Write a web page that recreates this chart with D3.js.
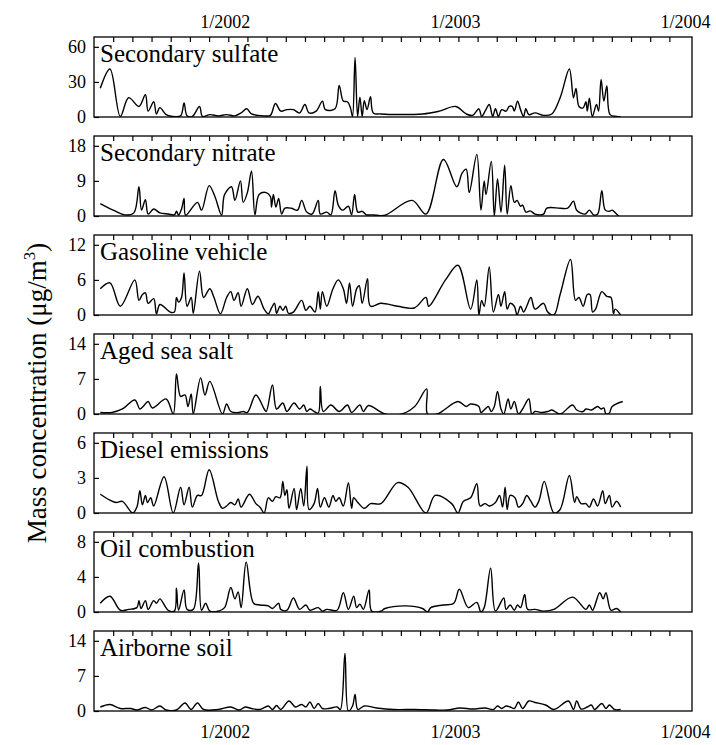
<!DOCTYPE html>
<html>
<head>
<meta charset="utf-8">
<script src="https://cdn.jsdelivr.net/npm/d3@7"></script>
<style>
  body { margin: 0; background: #fff; }
  svg text { font-family: "Liberation Serif", "Times New Roman", serif; fill: #000; }
</style>
</head>
<body>
<div id="chart"></div>
<script>
// time is decimal year, values in ug/m3
const sulfate = [[2001.444,24.5],[2001.486,41],[2001.531,0.5],[2001.567,16.5],[2001.612,9],[2001.640,19],[2001.652,5],[2001.676,13],[2001.688,2.6],[2001.703,8],[2001.730,2],[2001.757,0.5],[2001.793,1],[2001.808,12],[2001.821,1],[2001.844,0.5],[2001.875,9],[2001.888,0.5],[2001.920,2],[2001.957,1],[2001.993,2],[2002.029,1],[2002.056,3.5],[2002.080,7],[2002.101,2.6],[2002.129,1.4],[2002.156,1],[2002.183,1.4],[2002.205,11.5],[2002.228,5],[2002.255,6.3],[2002.283,6.3],[2002.310,3.5],[2002.333,10.7],[2002.351,3.5],[2002.382,5],[2002.409,13.6],[2002.422,6.3],[2002.464,7],[2002.482,27],[2002.500,13.6],[2002.518,13],[2002.531,7.8],[2002.540,0.5],[2002.551,51],[2002.562,0.5],[2002.572,17],[2002.582,0.5],[2002.591,14],[2002.603,6.3],[2002.618,17.3],[2002.630,3.5],[2002.663,2.6],[2002.844,2.6],[2002.917,5],[2002.989,9],[2003.034,2.6],[2003.062,1.4],[2003.089,7],[2003.101,0.5],[2003.116,5],[2003.134,10.7],[2003.149,0.5],[2003.161,7],[2003.174,0.5],[2003.188,6.3],[2003.207,5],[2003.221,9],[2003.234,9],[2003.243,5],[2003.257,13.6],[2003.270,6.3],[2003.283,0.5],[2003.293,7],[2003.306,2],[2003.333,3.5],[2003.370,1.4],[2003.406,2.6],[2003.442,16.5],[2003.482,41],[2003.500,16.5],[2003.511,24.5],[2003.524,9],[2003.542,7.8],[2003.554,13],[2003.560,5],[2003.569,16],[2003.582,0.5],[2003.600,10.7],[2003.609,5],[2003.620,32],[2003.632,13.6],[2003.645,26.5],[2003.659,2],[2003.687,0.5],[2003.705,0]];

const nitrate = [[2001.444,3.2],[2001.500,1.5],[2001.550,0.3],[2001.590,0.8],[2001.612,7.5],[2001.623,1.5],[2001.640,4.2],[2001.652,0.5],[2001.676,1.8],[2001.703,0.8],[2001.739,0.5],[2001.766,0.3],[2001.775,1.2],[2001.784,0.2],[2001.797,1.8],[2001.808,4.5],[2001.815,0.2],[2001.866,3.5],[2001.884,1.5],[2001.917,7.8],[2001.942,5],[2001.971,0.2],[2001.984,5.5],[2002.014,7.5],[2002.029,4],[2002.053,9],[2002.065,3.5],[2002.083,6],[2002.101,11.5],[2002.116,0.3],[2002.134,5.5],[2002.165,6],[2002.183,5],[2002.188,2.3],[2002.196,5.5],[2002.207,2.3],[2002.219,4.5],[2002.232,0.5],[2002.246,2],[2002.274,2],[2002.301,1.5],[2002.319,4],[2002.341,1],[2002.364,0.5],[2002.391,4],[2002.400,0.5],[2002.428,1],[2002.446,0.3],[2002.464,6.5],[2002.478,2.8],[2002.496,1.5],[2002.522,2.5],[2002.536,0.3],[2002.549,5.5],[2002.563,1],[2002.582,1.2],[2002.600,0.3],[2002.623,0.3],[2002.645,0.2],[2002.681,0.2],[2002.799,4],[2002.859,0.5],[2002.935,14.5],[2002.993,7.5],[2003.016,11],[2003.034,12],[2003.047,6],[2003.080,15.8],[2003.098,1.5],[2003.112,9],[2003.120,5.5],[2003.143,14],[2003.156,0],[2003.170,9.5],[2003.185,1],[2003.201,13],[2003.212,0.5],[2003.228,7.8],[2003.243,3.5],[2003.255,4],[2003.270,2.5],[2003.279,2.8],[2003.293,1],[2003.312,1.3],[2003.333,0.5],[2003.370,0.5],[2003.384,2],[2003.442,2],[2003.475,2],[2003.500,3.8],[2003.514,1.5],[2003.551,0.5],[2003.569,1.5],[2003.587,0.3],[2003.605,0.5],[2003.623,6.5],[2003.638,1.5],[2003.656,1.2],[2003.668,1.5],[2003.687,0.5],[2003.696,0]];

const gasoline = [[2001.444,4.5],[2001.486,5.5],[2001.531,1.5],[2001.594,6],[2001.612,2.5],[2001.627,3.5],[2001.640,3.8],[2001.652,2],[2001.676,2.8],[2001.688,0.2],[2001.703,1.8],[2001.748,0.5],[2001.766,0.5],[2001.775,3],[2001.784,2.2],[2001.797,3],[2001.808,7.2],[2001.821,1.5],[2001.839,3],[2001.848,0.3],[2001.875,7.5],[2001.893,3],[2001.920,4.5],[2001.938,3],[2001.966,0.2],[2001.993,3],[2002.011,4],[2002.025,2.5],[2002.043,3.8],[2002.056,1.5],[2002.083,4.5],[2002.105,1.8],[2002.129,3.2],[2002.156,1],[2002.174,0.2],[2002.188,1.2],[2002.201,2],[2002.210,0.3],[2002.225,1.5],[2002.237,0.8],[2002.250,1.5],[2002.261,0.3],[2002.283,0.5],[2002.319,2.5],[2002.337,0.8],[2002.355,1.5],[2002.377,0.5],[2002.391,4],[2002.400,1],[2002.409,4],[2002.428,1.5],[2002.455,4.5],[2002.478,6],[2002.500,4.5],[2002.514,2],[2002.527,5.5],[2002.540,1.5],[2002.558,4.5],[2002.569,5],[2002.582,2],[2002.605,6.2],[2002.618,1.5],[2002.663,2],[2002.736,1.5],[2002.808,1.2],[2002.859,3],[2002.871,1.5],[2002.944,6],[2002.998,8.5],[2003.053,1],[2003.080,6],[2003.089,0],[2003.101,2.5],[2003.112,1.5],[2003.134,8.2],[2003.152,0.5],[2003.174,3.5],[2003.185,1.5],[2003.201,4],[2003.212,1],[2003.225,2],[2003.243,1.5],[2003.255,0],[2003.270,1.5],[2003.283,0.5],[2003.297,1.5],[2003.315,3],[2003.333,1],[2003.370,2],[2003.388,0.5],[2003.415,0],[2003.442,3.5],[2003.487,9.5],[2003.509,2.5],[2003.524,3],[2003.542,1.5],[2003.560,3.5],[2003.572,3.5],[2003.583,0.5],[2003.596,1],[2003.623,4],[2003.645,3.2],[2003.663,3],[2003.674,0.2],[2003.681,1],[2003.705,0]];

const seaSalt = [[2001.444,0.3],[2001.495,0.3],[2001.540,1],[2001.594,2.8],[2001.616,1],[2001.630,1.5],[2001.652,2.5],[2001.670,1.2],[2001.730,3],[2001.761,0],[2001.775,8],[2001.793,3.5],[2001.812,3.8],[2001.825,1.5],[2001.839,4],[2001.848,0],[2001.880,7.2],[2001.899,3.8],[2001.920,6.5],[2001.975,0],[2001.993,2],[2002.011,0.5],[2002.047,0.3],[2002.065,0.5],[2002.083,0.3],[2002.120,3.8],[2002.156,1],[2002.165,0.5],[2002.192,5.8],[2002.210,1],[2002.237,2.2],[2002.255,0.5],[2002.286,2.2],[2002.310,1],[2002.328,1.8],[2002.341,0.5],[2002.355,1],[2002.373,0.5],[2002.391,0.2],[2002.400,5.5],[2002.413,0.5],[2002.446,1.8],[2002.482,0.5],[2002.518,1.8],[2002.536,0.3],[2002.572,1.8],[2002.587,0.5],[2002.609,1.7],[2002.681,0],[2002.754,0],[2002.810,1.5],[2002.862,5],[2002.866,0],[2002.908,0],[2002.998,2.5],[2003.034,1.5],[2003.053,2],[2003.089,1.5],[2003.098,0.3],[2003.116,1],[2003.130,1.5],[2003.143,0.5],[2003.156,1.5],[2003.170,4.5],[2003.185,1],[2003.197,0],[2003.216,3],[2003.228,1],[2003.243,2.5],[2003.261,0],[2003.279,1],[2003.306,3],[2003.319,0],[2003.333,0.5],[2003.361,0.3],[2003.388,0.5],[2003.406,0.8],[2003.442,0],[2003.496,1.8],[2003.514,0.8],[2003.542,0.5],[2003.554,1],[2003.578,0.8],[2003.605,1.5],[2003.620,1],[2003.632,1.2],[2003.641,0],[2003.656,0.2],[2003.668,1.5],[2003.714,2.5]];

const diesel = [[2001.444,1.6],[2001.486,1.1],[2001.513,0.9],[2001.540,1],[2001.585,0],[2001.603,0.5],[2001.616,1.9],[2001.627,0.7],[2001.640,1.5],[2001.649,0.9],[2001.663,1.3],[2001.676,0.6],[2001.721,3.1],[2001.761,0],[2001.793,2.2],[2001.808,0.7],[2001.830,2.2],[2001.844,0.5],[2001.866,1.5],[2001.884,1.5],[2001.917,3.7],[2001.957,1],[2001.975,0.4],[2001.993,0.6],[2002.011,0.9],[2002.029,0.7],[2002.043,1.2],[2002.056,0.5],[2002.092,1.6],[2002.120,0.8],[2002.138,0.5],[2002.156,0],[2002.174,1.3],[2002.192,1],[2002.207,1.4],[2002.225,1.3],[2002.237,2.7],[2002.246,1.5],[2002.255,2],[2002.264,0.4],[2002.286,2.1],[2002.297,0.3],[2002.315,2.1],[2002.328,0.6],[2002.342,4],[2002.351,0.3],[2002.373,0.8],[2002.388,2.1],[2002.400,0.5],[2002.418,1.3],[2002.437,0.5],[2002.455,1.5],[2002.467,1],[2002.482,1.3],[2002.500,0.6],[2002.522,2.6],[2002.536,0.4],[2002.545,1.3],[2002.563,0.9],[2002.591,0.4],[2002.618,0.8],[2002.663,0.8],[2002.736,2.6],[2002.781,2.2],[2002.859,0],[2002.899,1.5],[2002.971,0.8],[2002.998,0],[2003.022,1],[2003.053,1.3],[2003.080,2.5],[2003.094,0.6],[2003.116,0.8],[2003.134,0.6],[2003.161,0.9],[2003.179,1.5],[2003.192,0.5],[2003.203,2.2],[2003.212,0.3],[2003.225,1.5],[2003.246,1.3],[2003.261,0.5],[2003.279,0.8],[2003.297,1.5],[2003.312,1.1],[2003.333,0.5],[2003.351,1.1],[2003.373,2.7],[2003.415,0],[2003.442,0.3],[2003.482,3.2],[2003.505,0.9],[2003.514,1.4],[2003.533,0.8],[2003.554,0.8],[2003.569,0.5],[2003.587,1.2],[2003.605,0.6],[2003.627,1.9],[2003.638,0.8],[2003.656,1.5],[2003.668,0.5],[2003.687,1],[2003.705,0.5]];

const oil = [[2001.444,1],[2001.486,1.8],[2001.531,0.2],[2001.567,0.3],[2001.603,0.5],[2001.612,1.3],[2001.621,0.4],[2001.640,1.3],[2001.652,0.3],[2001.676,1.3],[2001.688,1],[2001.703,1.5],[2001.739,0.2],[2001.766,0.1],[2001.775,2.7],[2001.784,0.2],[2001.808,2.5],[2001.821,0.3],[2001.848,0.3],[2001.871,5.6],[2001.884,0.2],[2001.902,1],[2001.920,0.1],[2001.957,0.1],[2001.984,0.5],[2002.011,2.8],[2002.029,1.5],[2002.043,2.3],[2002.056,0.5],[2002.078,5.7],[2002.110,1],[2002.138,0.8],[2002.174,0.7],[2002.192,0.4],[2002.219,1],[2002.228,0.3],[2002.255,0.2],[2002.283,1.6],[2002.310,0.3],[2002.337,0.8],[2002.355,0.2],[2002.391,0.5],[2002.409,0.1],[2002.428,0.3],[2002.473,0.2],[2002.500,2.2],[2002.522,0.3],[2002.545,1.8],[2002.558,0.5],[2002.572,0.9],[2002.587,0.3],[2002.612,2.5],[2002.623,0.1],[2002.663,0.1],[2002.681,0.4],[2002.772,0.7],[2002.844,0.4],[2002.866,0],[2002.880,0.5],[2002.935,0.8],[2002.980,1],[2003.004,2.6],[2003.043,0.5],[2003.080,1.1],[2003.098,0],[2003.112,0.5],[2003.140,5],[2003.161,0.1],[2003.197,1.6],[2003.207,0.3],[2003.225,0.8],[2003.243,0.2],[2003.257,0.8],[2003.270,0.5],[2003.288,2],[2003.301,0.3],[2003.333,0.3],[2003.370,0.1],[2003.415,0.3],[2003.496,1.7],[2003.554,0.3],[2003.569,0.8],[2003.583,0.2],[2003.614,2.2],[2003.629,1.5],[2003.641,2.2],[2003.663,0.2],[2003.687,0.4],[2003.705,0]];

const soil = [[2001.444,0.8],[2001.486,1.3],[2001.531,0.5],[2001.576,0.5],[2001.603,0.2],[2001.640,0.7],[2001.667,0.2],[2001.703,1],[2001.730,0.2],[2001.775,0.2],[2001.812,1.6],[2001.839,0.3],[2001.866,1.6],[2001.893,0.3],[2001.957,0.3],[2002.011,0.8],[2002.047,0.2],[2002.074,0.8],[2002.101,0.5],[2002.138,0.3],[2002.174,1],[2002.192,0.3],[2002.210,1.1],[2002.228,0.3],[2002.264,2],[2002.292,0.8],[2002.319,1.3],[2002.337,0.8],[2002.355,1.8],[2002.373,0.5],[2002.391,1.5],[2002.409,0.5],[2002.437,0.5],[2002.473,0.8],[2002.487,0.3],[2002.507,11.5],[2002.522,0],[2002.540,1],[2002.551,3.3],[2002.563,0.3],[2002.591,1],[2002.645,0.6],[2002.717,0.3],[2002.808,0.3],[2002.899,0.2],[2002.953,0.2],[2003.007,0.6],[2003.062,0.4],[2003.116,0.6],[2003.152,0.3],[2003.170,1],[2003.188,0.5],[2003.207,1],[2003.225,0.8],[2003.243,0.5],[2003.261,1.8],[2003.279,0.5],[2003.306,2],[2003.333,1.7],[2003.379,1.2],[2003.415,0.3],[2003.478,2],[2003.500,0.3],[2003.514,2],[2003.533,0.4],[2003.560,0.8],[2003.578,1.2],[2003.592,0.3],[2003.623,1.5],[2003.641,0.5],[2003.656,1.2],[2003.678,0.3],[2003.705,0.3]];

const panelNames = ["Secondary sulfate", "Secondary nitrate", "Gasoline vehicle", "Aged sea salt",
  "Diesel emissions", "Oil combustion", "Airborne soil"];
const panelSeries = [sulfate, nitrate, gasoline, seaSalt, diesel, oil, soil];
const yTicks = [[0, 30, 60], [0, 9, 18], [0, 6, 12], [0, 7, 14], [0, 3, 6], [0, 4, 8], [0, 7, 14]];
const yearLabels = ["1/2002", "1/2003", "1/2004"];
const yearTicks = [2002, 2003, 2004];

let width = 716, height = 745;
let left = 94, right = 692,
    top0 = 37, panelH = 80, step = 99;

let svg = d3.select('#chart').append('svg')
    .attr('width', width)
    .attr('height', height);

let x = d3.scaleLinear()
    .domain([2001 + 5 / 12, 2004.015])
    .range([left, right]);

// monthly ticks 7/2001 .. 12/2003
let monthTicks = d3.range(30).map(i => 2001 + (6 + i) / 12);

panelSeries.forEach((series, i) => {
  let top = top0 + i * step;
  let ymax = yTicks[i][2] * 1.14;
  let y = d3.scaleLinear().domain([0, ymax]).range([top + panelH, top]);

  let g = svg.append('g');

  g.append('clipPath').attr('id', 'clip' + i)
    .append('rect')
    .attr('x', left).attr('y', top)
    .attr('width', right - left).attr('height', panelH);

  let line = d3.line()
      .x(d => x(d[0]))
      .y(d => y(d[1]))
      .curve(d3.curveCatmullRom.alpha(0.5));

  g.append('path')
    .datum(series)
    .attr('clip-path', 'url(#clip' + i + ')')
    .attr('fill', 'none')
    .attr('stroke', '#000')
    .attr('stroke-width', 1.4)
    .attr('d', line);

  // month ticks pointing down from the top edge
  let xAxis = d3.axisTop(x).tickValues(monthTicks).tickSize(-5).tickFormat('');
  g.append('g')
    .attr('transform', 'translate(0,' + top + ')')
    .call(xAxis)
    .call(a => a.select('.domain').remove())
    .selectAll('line').attr('stroke-width', 1.2);

  let yAxis = d3.axisLeft(y).tickValues(yTicks[i]).tickSize(-5).tickPadding(8)
      .tickFormat(d3.format('d'));
  let ya = g.append('g')
    .attr('transform', 'translate(' + left + ',0)')
    .call(yAxis);
  ya.select('.domain').remove();
  ya.selectAll('line').attr('stroke-width', 1.2);
  ya.selectAll('text')
    .attr('font-family', '"Liberation Serif", serif')
    .attr('font-size', 18);

  g.append('rect')
    .attr('x', left).attr('y', top)
    .attr('width', right - left).attr('height', panelH)
    .attr('fill', 'none')
    .attr('stroke', '#000')
    .attr('stroke-width', 1.3);

  g.append('text')
    .attr('x', left + 6)
    .attr('y', top + 25)
    .attr('font-size', 25)
    .text(panelNames[i]);
});

// year labels above and below
[28, 738].forEach(ty => {
  svg.append('g').selectAll('text')
    .data(yearTicks)
    .enter().append('text')
    .attr('x', d => x(d) - 3)
    .attr('y', ty)
    .attr('text-anchor', 'middle')
    .attr('font-size', 18)
    .text((d, k) => yearLabels[k]);
});

let title = svg.append('text')
    .attr('transform', 'translate(46,' + 393 + ') rotate(-90)')
    .attr('text-anchor', 'middle')
    .attr('font-size', 27);
title.append('tspan').text('Mass concentration (\u03bcg/m');
title.append('tspan').attr('font-size', 17).attr('dy', -11).text('3');
title.append('tspan').attr('dy', 11).text(')');
</script>
</body>
</html>
